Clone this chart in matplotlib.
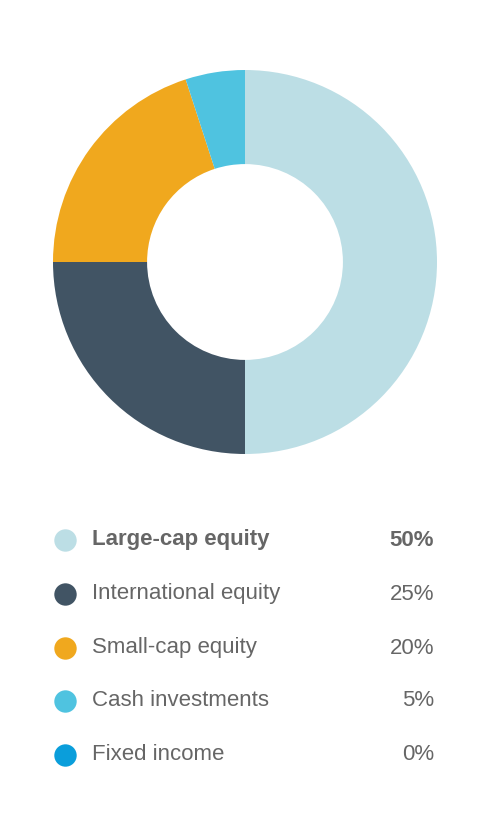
import matplotlib
matplotlib.use('Agg')
import matplotlib.pyplot as plt

categories = ['Large-cap equity', 'International equity', 'Small-cap equity',
              'Cash investments', 'Fixed income']
shares = [50, 25, 20, 5, 0]
colors = ['#bcdee5', '#415464', '#f0a81e', '#4fc3e0', '#0a9edb']

W, H = 491, 835
fig = plt.figure(figsize=(W / 100, H / 100), dpi=100)

# donut: centre (245, 262) px, outer radius 192 px
cx, cy, r = 245, 262, 192
ax = fig.add_axes([(cx - r) / W, 1 - (cy + r) / H, 2 * r / W, 2 * r / H])
vals = [v for v in shares if v > 0]
cols = [c for v, c in zip(shares, colors) if v > 0]
ax.pie(vals, colors=cols, startangle=90, counterclock=False,
       wedgeprops=dict(width=0.49, linewidth=0))
ax.set_xlim(-1, 1)
ax.set_ylim(-1, 1)
ax.set_aspect('equal')
ax.axis('off')

# legend rows
lax = fig.add_axes([0, 0, 1, 1])
lax.set_xlim(0, W)
lax.set_ylim(H, 0)
lax.axis('off')
row_y = [540, 594, 648, 701, 755]
for i, (name, v, c) in enumerate(zip(categories, shares, colors)):
    y = row_y[i]
    lax.scatter([65], [y], s=260, color=c, linewidths=0)
    weight = 'bold' if i == 0 else 'normal'
    lax.text(92, y, name, fontsize=16, color='#666666', va='center',
             ha='left', fontweight=weight, family='Liberation Sans')
    lax.text(434, y, f'{v}%', fontsize=16, color='#666666', va='center',
             ha='right', fontweight=weight, family='Liberation Sans')

fig.savefig('out.png', dpi=100)
